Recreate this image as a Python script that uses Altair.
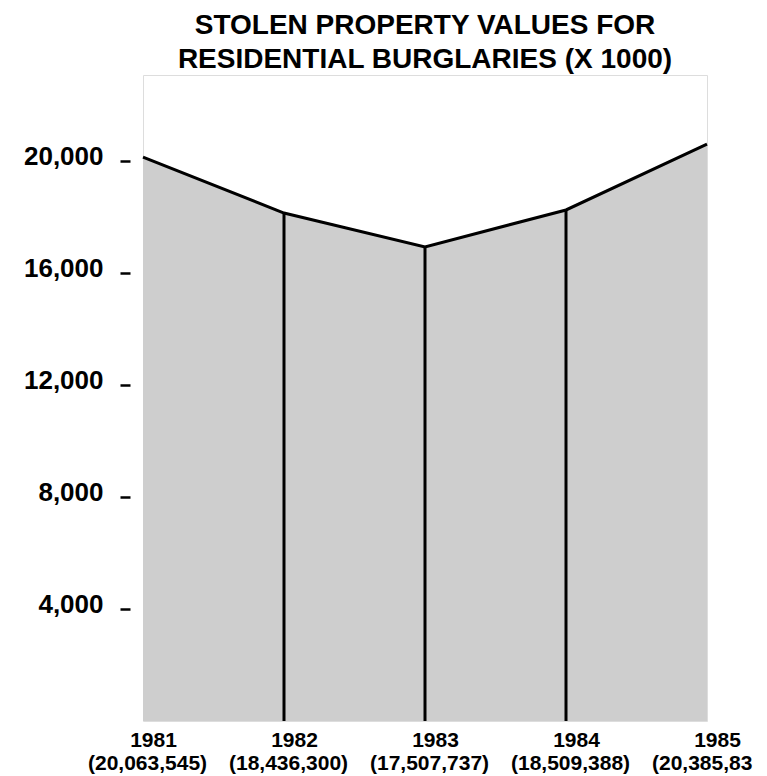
import altair as alt
import pandas as pd

# Values as drawn on the chart (thousands of dollars)
years = [1981, 1982, 1983, 1984, 1985]
values = [20140, 18140, 16930, 18250, 20600]
# Printed figures under the years (last one is cut off at the page edge)
value_labels = ["(20,063,545)", "(18,436,300)", "(17,507,737)", "(18,509,388)", "(20,385,83"]
y_ticks = [4000, 8000, 12000, 16000, 20000]
title_lines = ["STOLEN PROPERTY VALUES FOR", "RESIDENTIAL BURGLARIES (X 1000)"]

df = pd.DataFrame({"year": years, "value": values, "label": value_labels})

FONT = "Liberation Sans"
W, H = 564, 646

x_enc = alt.X(
    "year:Q",
    scale=alt.Scale(domain=[years[0], years[-1]], nice=False, zero=False),
    axis=alt.Axis(
        values=years, format="d", title=None, ticks=False, domain=False, grid=False,
        labelFontSize=21, labelFont=FONT, labelFontWeight="bold", labelColor="black",
        labelPadding=8, labelOffset=10, labelFlush=False,
    ),
)
y_enc = alt.Y(
    "value:Q",
    scale=alt.Scale(domain=[0, 23070], nice=False),
    axis=alt.Axis(
        values=y_ticks, format=",d", title=None, domain=False, grid=False,
        tickSize=10, tickWidth=2.5, tickColor="black", offset=13, labelPadding=17,
        labelFontSize=26, labelFont=FONT, labelFontWeight="bold", labelColor="black",
        labelOffset=-4,
    ),
)

base = alt.Chart(df)

area = base.mark_area(color="#cecece", opacity=1).encode(x=x_enc, y=y_enc)
line = base.mark_line(color="black", strokeWidth=3).encode(x=x_enc, y=y_enc)
rules = base.transform_filter(
    (alt.datum.year > years[0]) & (alt.datum.year < years[-1])
).mark_rule(color="black", strokeWidth=3).encode(x=x_enc, y=y_enc, y2=alt.datum(0))
texts = base.mark_text(
    font=FONT, fontSize=21, fontWeight="bold", color="black",
    baseline="alphabetic", align="left", dx=-55,
).encode(x=x_enc, y=alt.value(H + 49), text="label:N")

chart = alt.layer(area, line, rules, texts).properties(
    width=W, height=H,
    title=alt.TitleParams(
        text=title_lines, fontSize=28, font=FONT, fontWeight="bold", color="black",
        anchor="middle", offset=1, lineHeight=34,
    ),
    padding={"left": 135, "top": 67, "right": 52, "bottom": 55},
    autosize="none",
).configure_view(stroke="black", strokeWidth=3.5).configure(background="white")

chart.save("out.html", embed_options={"renderer": "svg", "actions": False})
